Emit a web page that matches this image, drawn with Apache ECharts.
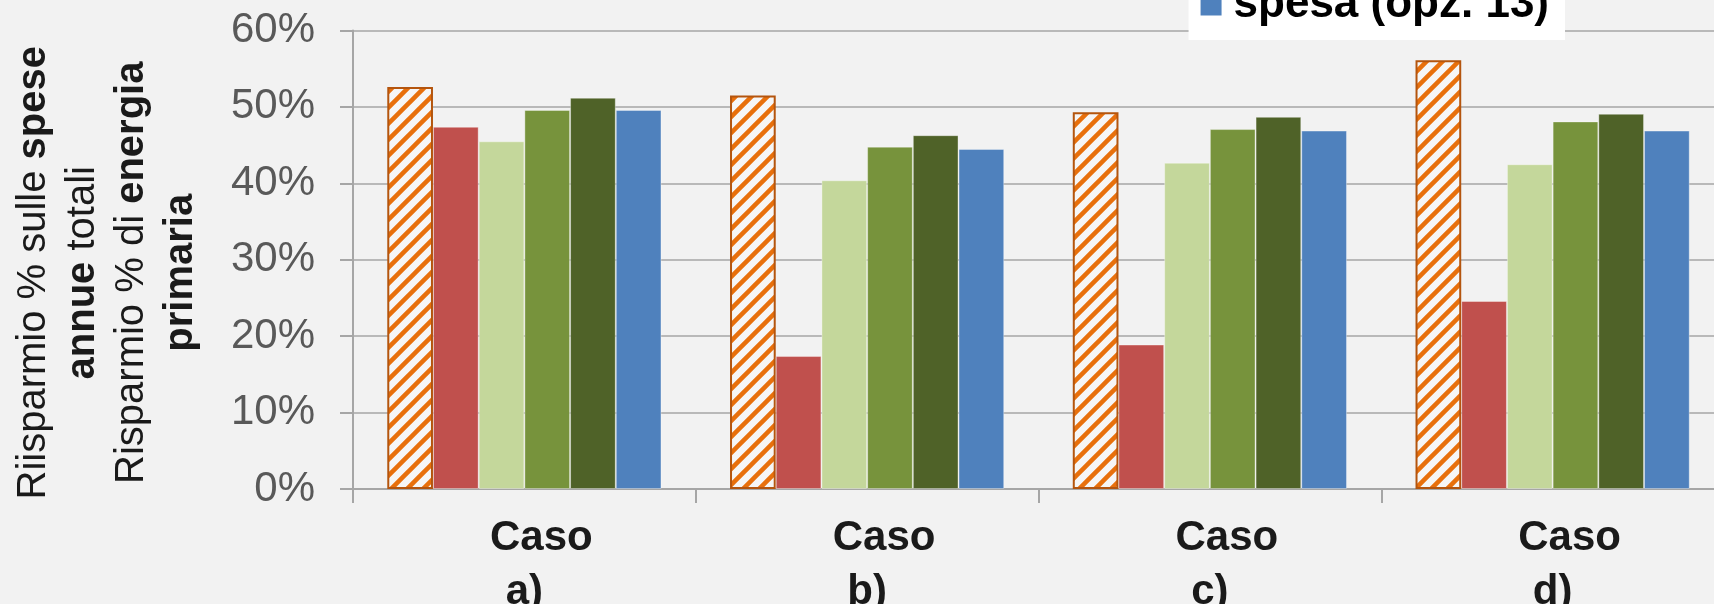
<!DOCTYPE html>
<html>
<head>
<meta charset="utf-8">
<script src="https://cdn.jsdelivr.net/npm/echarts@6/dist/echarts.min.js"></script>
<style>
html, body { margin: 0; padding: 0; background: #f2f2f2; }
#chart { width: 1714px; height: 604px; }
</style>
</head>
<body>
<div id="chart"></div>
<script>
// categories and values (percent)
var categories = ['Caso a)', 'Caso b)', 'Caso c)', 'Caso d)'];
var seriesNames = ['serie 1', 'serie 2', 'serie 3', 'serie 4', 'serie 5', 'spesa (opz. 13)'];
var hatchValues = [52.6, 51.5, 49.3, 56.1];
var redValues = [47.4, 17.4, 18.9, 24.6];
var lightGreenValues = [45.5, 40.4, 42.7, 42.5];
var greenValues = [49.6, 44.8, 47.1, 48.1];
var darkGreenValues = [51.2, 46.3, 48.7, 49.1];
var blueValues = [49.6, 44.5, 46.9, 46.9];
var yMin = 0, yMax = 60, yStep = 10;

var FONT = '"Liberation Sans", Arial, sans-serif';

// diagonal orange hatch, like the excel "wide upward diagonal"
function hatchPattern() {
    var n = 16;
    var c = document.createElement('canvas');
    c.width = n;
    c.height = n;
    var ctx = c.getContext('2d');
    ctx.fillStyle = '#f6f6f6';
    ctx.fillRect(0, 0, n, n);
    ctx.strokeStyle = '#e8700c';
    ctx.lineWidth = 4.5;
    ctx.beginPath();
    ctx.moveTo(-4, n + 4); ctx.lineTo(n + 4, -4);
    ctx.moveTo(-4, 4); ctx.lineTo(4, -4);
    ctx.moveTo(n - 4, n + 4); ctx.lineTo(n + 4, n - 4);
    ctx.stroke();
    return c;
}

function makeBar(name, data, color, border, borderWidth) {
    return {
        name: name,
        type: 'bar',
        data: data,
        barGap: 0,
        barCategoryGap: '20%',
        itemStyle: {
            color: color,
            borderColor: border,
            borderWidth: borderWidth
        }
    };
}

var lightEdge = 'rgba(255,255,255,0.35)';
var series = [
    makeBar(seriesNames[0], hatchValues, { image: hatchPattern(), repeat: 'repeat' }, '#b4550e', 2),
    makeBar(seriesNames[1], redValues, '#c0504d', lightEdge, 1),
    makeBar(seriesNames[2], lightGreenValues, '#c4d79b', lightEdge, 1),
    makeBar(seriesNames[3], greenValues, '#77933c', lightEdge, 1),
    makeBar(seriesNames[4], darkGreenValues, '#4f6228', lightEdge, 1),
    makeBar(seriesNames[5], blueValues, '#4f81bd', lightEdge, 1)
];

var chart = echarts.init(document.getElementById('chart'), null, { renderer: 'canvas' });

var option = {
    backgroundColor: '#f2f2f2',
    animation: false,
    legend: {
        data: [seriesNames[5]],
        right: 149,
        top: -22,
        backgroundColor: '#ffffff',
        padding: [5, 16, 13, 12],
        icon: 'rect',
        itemWidth: 21,
        itemHeight: 21,
        selectedMode: false,
        itemStyle: { borderWidth: 0 },
        textStyle: {
            fontFamily: FONT,
            fontSize: 44,
            fontWeight: 'bold',
            color: '#000000',
            padding: [0, 0, 0, 7]
        }
    },
    grid: {
        left: 353,
        right: -10,
        top: 30.5,
        bottom: 115,
        outerBoundsMode: 'none'
    },
    xAxis: {
        type: 'category',
        data: categories,
        axisLine: { lineStyle: { color: '#a6a6a6', width: 2 } },
        axisTick: { show: true, length: 14, lineStyle: { color: '#a6a6a6', width: 2 } },
        axisLabel: {
            margin: 22,
            interval: 0,
            formatter: function (val) {
                var parts = val.split(' ');
                return '{c|' + parts[0] + '}\n{d|' + parts[1] + '}';
            },
            rich: {
                c: { fontFamily: FONT, fontSize: 42, fontWeight: 'bold', color: '#1a1a1a', lineHeight: 54, padding: [0, 0, 0, 34] },
                d: { fontFamily: FONT, fontSize: 42, fontWeight: 'bold', color: '#1a1a1a', lineHeight: 54 }
            }
        }
    },
    yAxis: {
        type: 'value',
        min: yMin,
        max: yMax,
        interval: yStep,
        name: '{r|Riisparmio % sulle }{b|spese}\n{b|annue}{r| totali}\n{r|Risparmio % di }{b|energia}\n{b|primaria}',
        nameLocation: 'middle',
        nameRotate: 90,
        nameGap: 148,
        nameTextStyle: {
            padding: [0, 26, 0, 0],
            rich: {
                r: { fontFamily: FONT, fontSize: 40, color: '#1a1a1a', lineHeight: 49 },
                b: { fontFamily: FONT, fontSize: 40, fontWeight: 'bold', color: '#1a1a1a', lineHeight: 49 }
            }
        },
        axisLine: { show: true, lineStyle: { color: '#a6a6a6', width: 2 } },
        axisTick: { show: true, length: 13, lineStyle: { color: '#a6a6a6', width: 2 } },
        axisLabel: {
            margin: 38,
            fontFamily: FONT,
            fontSize: 42,
            color: '#595959',
            formatter: '{value}%'
        },
        splitLine: { lineStyle: { color: '#b9b9b9', width: 2 } }
    },
    series: series
};

chart.setOption(option);
</script>
</body>
</html>
